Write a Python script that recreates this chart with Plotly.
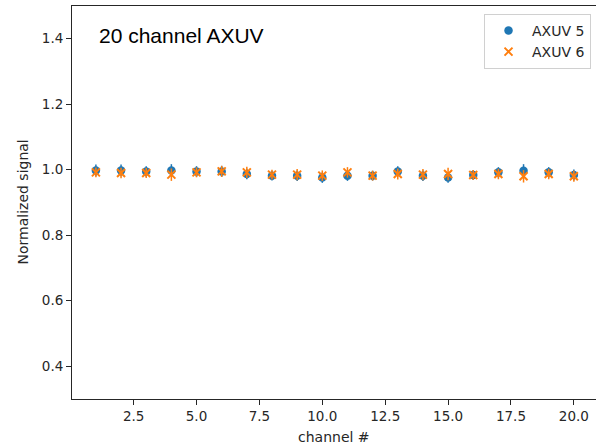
import plotly.graph_objects as go

channels = list(range(1, 21))
axuv5 = [0.998, 0.998, 0.995, 0.998, 0.995, 0.995, 0.987, 0.982, 0.982, 0.976,
         0.982, 0.982, 0.995, 0.982, 0.976, 0.984, 0.992, 0.997, 0.992, 0.984]
axuv5_err = [0.018, 0.018, 0.016, 0.019, 0.016, 0.017, 0.016, 0.015, 0.016, 0.016,
             0.016, 0.015, 0.016, 0.016, 0.016, 0.015, 0.016, 0.020, 0.016, 0.017]
axuv6 = [0.992, 0.990, 0.990, 0.985, 0.992, 0.995, 0.992, 0.985, 0.985, 0.982,
         0.992, 0.982, 0.987, 0.985, 0.987, 0.984, 0.987, 0.980, 0.987, 0.980]
axuv6_err = [0.015, 0.016, 0.015, 0.019, 0.015, 0.017, 0.017, 0.015, 0.017, 0.016,
             0.016, 0.015, 0.017, 0.017, 0.019, 0.015, 0.016, 0.019, 0.016, 0.017]
x_ticks = [2.5, 5.0, 7.5, 10.0, 12.5, 15.0, 17.5, 20.0]
y_ticks = [0.4, 0.6, 0.8, 1.0, 1.2, 1.4]

BLUE = "#1f77b4"
ORANGE = "#ff7f0e"

fig = go.Figure()
fig.add_trace(go.Scatter(
    x=channels, y=axuv5, mode="markers", name="AXUV 5",
    marker=dict(symbol="circle", size=8.5, color=BLUE),
    error_y=dict(type="data", array=axuv5_err, color=BLUE, thickness=1.5, width=0),
))
fig.add_trace(go.Scatter(
    x=channels, y=axuv6, mode="markers", name="AXUV 6",
    marker=dict(symbol="x-thin", size=8, color=ORANGE, line=dict(color=ORANGE, width=2)),
    error_y=dict(type="data", array=axuv6_err, color=ORANGE, thickness=1.5, width=0),
))

tickfont = dict(family="DejaVu Sans", size=13.5, color="#262626")
fig.update_layout(
    width=596, height=445,
    margin=dict(l=72, r=0, t=6, b=46, autoexpand=False),
    paper_bgcolor="white", plot_bgcolor="white",
    showlegend=True,
    legend=dict(x=0.9905, y=0.98, xanchor="right", yanchor="top",
                bgcolor="rgba(255,255,255,0.8)", bordercolor="#d0d0d0", borderwidth=1,
                font=dict(family="DejaVu Sans", size=14, color="#262626"),
                itemwidth=37, tracegroupgap=0),
    xaxis=dict(range=[0.05, 20.88], tickvals=x_ticks, ticktext=[f"{v:.1f}" for v in x_ticks],
               showgrid=False, zeroline=False, showline=True, linecolor="#262626", linewidth=1,
               mirror=True, ticks="outside", ticklen=5, tickcolor="#262626", tickfont=tickfont),
    yaxis=dict(range=[0.3, 1.5], tickvals=y_ticks, ticktext=[f"{v:.1f}" for v in y_ticks],
               showgrid=False, zeroline=False, showline=True, linecolor="#262626", linewidth=1,
               mirror=False, ticks="outside", ticklen=5, tickcolor="#262626", tickfont=tickfont),
    annotations=[
        dict(text="20 channel AXUV", xref="paper", yref="paper", x=0.0477, y=0.9237,
             xanchor="left", yanchor="middle", showarrow=False,
             font=dict(family="Liberation Sans, Arial", size=21, color="black")),
        dict(text="channel #", xref="paper", yref="paper", x=0.5, y=-0.0967,
             xanchor="center", yanchor="middle", showarrow=False,
             font=dict(family="DejaVu Sans", size=14, color="#262626")),
        dict(text="Normalized signal", xref="paper", yref="paper", x=-0.0954, y=0.5,
             xanchor="center", yanchor="middle", showarrow=False, textangle=-90,
             font=dict(family="DejaVu Sans", size=14, color="#262626")),
    ],
)

fig.write_html("out.html")
